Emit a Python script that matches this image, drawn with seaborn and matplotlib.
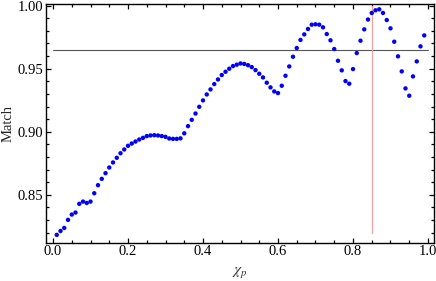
import numpy as np
import pandas as pd
import matplotlib
matplotlib.use("Agg")
import matplotlib.pyplot as plt
import seaborn as sns
from matplotlib.ticker import MultipleLocator, FixedLocator

chi_p = [round(0.01 * i, 2) for i in range(1, 100)]
match = [
    0.8183, 0.8214, 0.8238, 0.8302, 0.8344, 0.8360, 0.8429, 0.8447, 0.8436, 0.8447,
    0.8513, 0.8577, 0.8627, 0.8672, 0.8717, 0.8757, 0.8794, 0.8830, 0.8860, 0.8889,
    0.8907, 0.8923, 0.8939, 0.8952, 0.8966, 0.8971, 0.8973, 0.8971, 0.8966, 0.8960,
    0.8947, 0.8944, 0.8944, 0.8948, 0.8988, 0.9045, 0.9095, 0.9145, 0.9198, 0.9249,
    0.9296, 0.9336, 0.9378, 0.9415, 0.9450, 0.9476, 0.9500, 0.9521, 0.9532, 0.9542,
    0.9538, 0.9528, 0.9513, 0.9489, 0.9460, 0.9431, 0.9389, 0.9352, 0.9320, 0.9307,
    0.9365, 0.9444, 0.9518, 0.9595, 0.9664, 0.9728, 0.9772, 0.9815, 0.9849, 0.9852,
    0.9849, 0.9828, 0.9775, 0.9725, 0.9656, 0.9563, 0.9487, 0.9402, 0.9381, 0.9497,
    0.9624, 0.9722, 0.9812, 0.9890, 0.9942, 0.9963, 0.9971, 0.9942, 0.9886, 0.9820,
    0.9714, 0.9598, 0.9479, 0.9344, 0.9286, 0.9439, 0.9558, 0.9677, 0.9764,
]
threshold = 0.965
threshold_x = [0.0, 1.0]
marker_x = 0.85
marker_y = [0.82, 1.0]
xticks = [0.0, 0.2, 0.4, 0.6, 0.8, 1.0]
xtick_labels = ["0.0", "0.2", "0.4", "0.6", "0.8", "1.0"]
yticks = [0.85, 0.90, 0.95, 1.00]
ytick_labels = ["0.85", "0.90", "0.95", "1.00"]

df = pd.DataFrame({"chi_p": chi_p, "Match": match})

sns.set_style("ticks")
plt.rcParams["font.family"] = ["Liberation Serif", "DejaVu Serif"]
plt.rcParams["mathtext.fontset"] = "stix"

fig = plt.figure(figsize=(4.36, 2.81), dpi=100)
ax = fig.add_axes([0.1055, 0.1363, 0.8899, 0.8495])

ax.plot(threshold_x, [threshold, threshold], color="#555555", lw=0.8, zorder=1)
ax.plot([marker_x, marker_x], marker_y, color="#f0a0a0", lw=0.9, zorder=1)
sns.scatterplot(data=df, x="chi_p", y="Match", ax=ax, color="#0000ff",
                s=10, edgecolor="none", linewidth=0, zorder=3)

ax.set_xlim(-0.0187, 1.016)
ax.set_ylim(0.8121, 1.0013)

ax.xaxis.set_major_locator(FixedLocator(xticks))
ax.set_xticklabels(xtick_labels)
ax.xaxis.set_minor_locator(MultipleLocator(0.05))
ax.yaxis.set_major_locator(FixedLocator(yticks))
ax.set_yticklabels(ytick_labels)
ax.yaxis.set_minor_locator(MultipleLocator(0.01))

ax.tick_params(which="both", direction="in", top=True, right=True,
               labelsize=10.5, colors="black", width=0.9, pad=2)
ax.tick_params(which="major", length=3.5)
ax.tick_params(which="minor", length=2)
for sp in ax.spines.values():
    sp.set_linewidth(1.0)
    sp.set_color("black")

ax.set_xlabel(r"$\chi_p$", fontsize=11, color="#333333", labelpad=5)
ax.set_ylabel("Match", fontsize=10.5, labelpad=2)

fig.savefig("out.png", dpi=100)
